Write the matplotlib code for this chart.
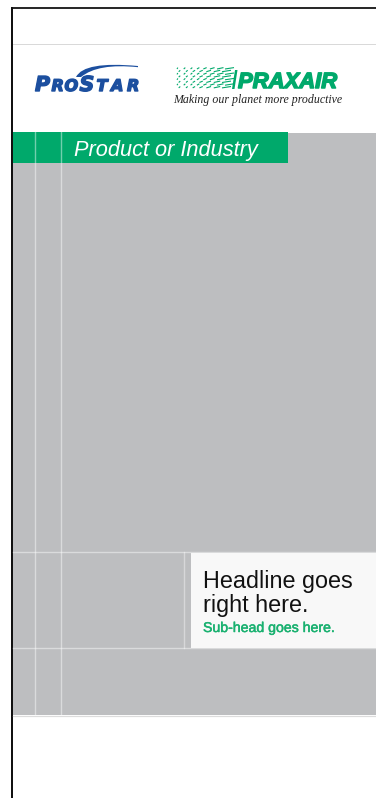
import matplotlib
matplotlib.use("Agg")
import matplotlib.pyplot as plt
from matplotlib.patches import Rectangle, PathPatch
from matplotlib.path import Path
import matplotlib.patheffects as pe

W, H = 376, 798
DPI = 100

# ---- content ----
section_title = "Product or Industry"
headline_lines = ["Headline goes", "right here."]
subhead = "Sub-head goes here."
tagline = "Making our planet more productive"
brand_right = "PRAXAIR"
brand_left_letters = ["P", "R", "O", "S", "T", "A", "R"]
brand_left_big = [True, False, False, True, False, False, False]

GREEN = "#00A96B"
SUBGREEN = "#19B170"
GRAY = "#BDBEC0"
BLUE = "#1C4F9F"
BOX = "#F8F8F8"

fig = plt.figure(figsize=(W / DPI, H / DPI), dpi=DPI)
ax = fig.add_axes([0, 0, 1, 1])
ax.set_xlim(0, W)
ax.set_ylim(H, 0)
ax.axis("off")
fig.patch.set_facecolor("white")

px = 0.72  # points per pixel at 100 dpi

# frame
ax.add_patch(Rectangle((10.5, 6.5), W, 2, color="#2a2a2a", lw=0))
ax.add_patch(Rectangle((10.5, 6.5), 2, H, color="#111111", lw=0))
ax.add_patch(Rectangle((12.5, 43.5), W, 1.2, color="#D9D9D9", lw=0))

# gray body and green band
ax.add_patch(Rectangle((12.5, 133), W - 12, 715 - 133, color=GRAY, lw=0))
ax.add_patch(Rectangle((12.5, 132), 288 - 12.5, 163 - 132, color=GREEN, lw=0))

# grid lines
for x in (35, 61):
    ax.plot([x, x], [132, 715], color="white", alpha=0.45, lw=1.4 * px)
for y in (552, 648):
    ax.plot([12.5, W + 10], [y, y], color="white", alpha=0.45, lw=1.4 * px)
ax.plot([184, 184], [552, 648], color="white", alpha=0.4, lw=1.4 * px)
ax.plot([12.5, W + 10], [715.5, 715.5], color="#DCDCDC", lw=1.2 * px)

# headline box
ax.add_patch(Rectangle((191, 552.5), W - 191 + 10, 648 - 552.5, color=BOX, lw=0))

fig.canvas.draw()
renderer = fig.canvas.get_renderer()


def fit_text(x, y, s, width, size0, **kw):
    t = ax.text(x, y, s, fontsize=size0, va="baseline", ha="left", **kw)
    w = t.get_window_extent(renderer=renderer).width
    t.set_fontsize(size0 * width / w)
    return t


# section title
fit_text(74, 156, section_title, 184, 16, color="white", style="italic",
         family="Liberation Sans")

# headline
h1 = fit_text(203, 588, headline_lines[0], 150, 16, color="#111111",
              family="Liberation Sans")
ax.text(203, 612, headline_lines[1], va="baseline", ha="left", color="#111111",
        family="Liberation Sans", fontsize=h1.get_fontsize())
fit_text(203, 632, subhead, 132, 10, color=SUBGREEN, family="Liberation Sans",
         path_effects=[pe.withStroke(linewidth=0.35, foreground=SUBGREEN)])

# PRAXAIR logo
fit_text(238, 88, brand_right, 99, 17, color=GREEN, family="Liberation Sans",
         fontweight="bold", style="italic",
         path_effects=[pe.withStroke(linewidth=1.1, foreground=GREEN)])
fit_text(173, 103.5, tagline, 168, 9, color="#222222", family="Liberation Serif",
         style="italic")

# speed streaks (slanted dashes, sparser toward the left)
for i in range(8):
    y = 68.5 + i * 2.7
    x = 234 - (i % 2) * 3
    seg = 9.0
    while x > 177:
        x0 = max(x - seg, 177)
        ax.plot([x0, x], [y + 0.5, y - 0.9], color=GREEN, lw=1.1 * px,
                solid_capstyle="butt")
        gap = 1.5 + (234 - x) * 0.09
        x = x0 - gap
        seg = max(1.6, seg * 0.72)
# slanted bar at the right end of the streaks
ax.add_patch(PathPatch(Path([(232, 89), (234.5, 89), (237.5, 70), (235, 70), (232, 89)],
                            [Path.MOVETO, Path.LINETO, Path.LINETO, Path.LINETO,
                             Path.CLOSEPOLY]), color=GREEN, lw=0))

# ProStar logo
xs = [35, 51.5, 64.5, 79.5, 96.5, 111, 127]
for ch, big, x in zip(brand_left_letters, brand_left_big, xs):
    ax.text(x, 91, ch, fontsize=(14.8 if big else 11.6), color=BLUE,
            family="DejaVu Sans", fontweight="bold", style="italic",
            va="baseline", ha="left",
            path_effects=[pe.withStroke(linewidth=1.0, foreground=BLUE)])

# swoosh (crescent, thick on the left, tapering to the right)
verts = [(76, 77), (84, 61), (138, 66), (138, 67.2),
         (98, 63), (81, 77), (76, 77)]
codes = [Path.MOVETO, Path.CURVE3, Path.CURVE3, Path.LINETO,
         Path.CURVE3, Path.CURVE3, Path.CLOSEPOLY]
ax.add_patch(PathPatch(Path(verts, codes), color=BLUE, lw=0))

fig.savefig("out.png", dpi=DPI, facecolor="white")
